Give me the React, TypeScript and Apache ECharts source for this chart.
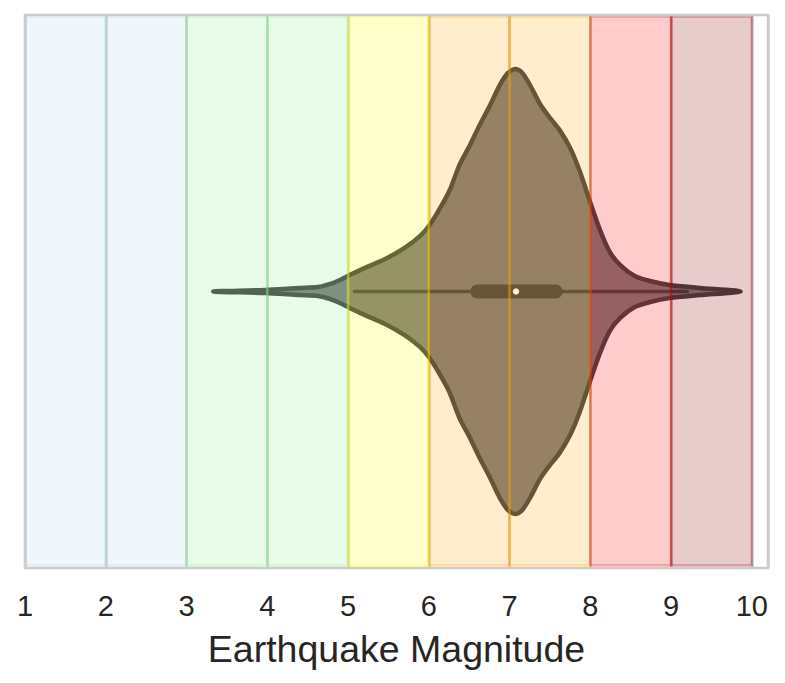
import React, { useEffect, useRef } from 'react';
import * as echarts from 'echarts';

// Violin profile (earthquake magnitude vs. relative density, peak = 1)
const magnitudes = [
  3.33, 3.97, 4.4, 4.63, 4.78, 4.9, 5.02, 5.21, 5.46, 5.7, 5.89, 6.01, 6.14, 6.26, 6.38,
  6.51, 6.63, 6.76, 6.88, 6.98, 7.07, 7.15, 7.25, 7.38, 7.5, 7.62, 7.75, 7.87, 7.99,
  8.12, 8.24, 8.37, 8.55, 8.74, 8.98, 9.36, 9.86,
];
const density = [
  0, 0.007, 0.016, 0.02, 0.034, 0.052, 0.074, 0.106, 0.146, 0.196, 0.249, 0.299, 0.375,
  0.456, 0.569, 0.658, 0.748, 0.838, 0.928, 0.982, 1.0, 0.985, 0.93, 0.84, 0.78, 0.725,
  0.645, 0.54, 0.41, 0.276, 0.178, 0.119, 0.07, 0.047, 0.029, 0.016, 0,
];
// [lower whisker, Q1, median, Q3, upper whisker]
const boxStats = [5.08, 6.6, 7.08, 7.57, 9.2];

// Background magnitude bands
const bandStarts = [1, 2, 3, 4, 5, 6, 7, 8, 9];
const bandEnds = [2, 3, 4, 5, 6, 7, 8, 9, 10];
const bandColors = [
  [173, 216, 230],
  [173, 216, 230],
  [144, 238, 144],
  [144, 238, 144],
  [255, 255, 0],
  [255, 165, 0],
  [255, 165, 0],
  [255, 0, 0],
  [139, 0, 0],
];

const xTicks = [1, 2, 3, 4, 5, 6, 7, 8, 9, 10];
const axisTitle = 'Earthquake Magnitude';

const FONT = '"Liberation Sans", Arial, Helvetica, sans-serif';
const TEXT = '#262626';
const VIOLIN_SCALE = 0.805;

export default function App() {
  const ref = useRef<HTMLDivElement>(null);

  useEffect(() => {
    if (!ref.current) return;
    const chart = echarts.init(ref.current, undefined, { renderer: 'svg' });

    const rgba = (c: number[], a: number) => `rgba(${c[0]},${c[1]},${c[2]},${a})`;

    const option: any = {
      animation: false,
      backgroundColor: '#ffffff',
      grid: { left: 25, right: 17, top: 15, bottom: 115, show: false },
      xAxis: {
        type: 'value',
        min: 1,
        max: 10.2,
        interval: 1,
        axisLine: { show: false },
        axisTick: { show: false },
        axisLabel: {
          fontSize: 29,
          color: TEXT,
          margin: 23,
          fontFamily: FONT,
          formatter: (v: number) => (xTicks.includes(v) ? String(v) : ''),
        },
        splitLine: { show: true, lineStyle: { color: '#cccccc', width: 2.5 } },
        name: axisTitle,
        nameLocation: 'middle',
        nameGap: 62,
        nameTextStyle: { fontSize: 37.5, color: TEXT, fontFamily: FONT },
      },
      yAxis: { type: 'value', min: -1, max: 1, show: false },
      series: [
        {
          type: 'custom',
          name: 'violin',
          z: 2,
          data: [[boxStats[2], 0]],
          renderItem: (_params: any, api: any) => {
            const n = magnitudes.length;
            const upper = magnitudes.map((m, i) => api.coord([m, density[i] * VIOLIN_SCALE]));
            const lower: number[][] = [];
            for (let i = n - 2; i >= 1; i--) {
              lower.push(api.coord([magnitudes[i], -density[i] * VIOLIN_SCALE]));
            }
            const pts = upper.concat(lower);
            const wl = api.coord([boxStats[0], 0]);
            const q1 = api.coord([boxStats[1], 0]);
            const med = api.coord([boxStats[2], 0]);
            const q3 = api.coord([boxStats[3], 0]);
            const wh = api.coord([boxStats[4], 0]);
            const dark = 'rgb(66,64,68)';
            return {
              type: 'group',
              children: [
                {
                  type: 'polygon',
                  shape: { points: pts, smooth: 0.25 },
                  style: { fill: 'rgb(124,120,126)', stroke: dark, lineWidth: 4.5, lineJoin: 'round' },
                },
                {
                  type: 'line',
                  shape: { x1: wl[0], y1: wl[1], x2: wh[0], y2: wh[1] },
                  style: { stroke: dark, lineWidth: 3.5, lineCap: 'round' },
                },
                {
                  type: 'line',
                  shape: { x1: q1[0], y1: q1[1], x2: q3[0], y2: q3[1] },
                  style: { stroke: dark, lineWidth: 14, lineCap: 'round' },
                },
                {
                  type: 'circle',
                  shape: { cx: med[0], cy: med[1], r: 3.2 },
                  style: { fill: '#ffffff' },
                },
              ],
            };
          },
        },
        {
          type: 'custom',
          name: 'bands',
          z: 3,
          data: bandStarts.map((s, i) => [s, bandEnds[i]]),
          renderItem: (params: any, api: any) => {
            const p0 = api.coord([api.value(0), 1]);
            const p1 = api.coord([api.value(1), -1]);
            const c = bandColors[params.dataIndex];
            return {
              type: 'rect',
              shape: { x: p0[0], y: p0[1] + 1.5, width: p1[0] - p0[0], height: p1[1] - p0[1] - 4 },
              style: { fill: rgba(c, 0.2), stroke: rgba(c, 0.3), lineWidth: 2.5 },
            };
          },
        },
      ],
      graphic: [
        {
          type: 'rect',
          z: 100,
          shape: { x: 25, y: 15, width: 743, height: 553 },
          style: { fill: 'none', stroke: '#cccccc', lineWidth: 2.5 },
        },
      ],
    };

    chart.setOption(option);
    return () => chart.dispose();
  }, []);

  return (
    <div
      ref={ref}
      style={{ position: 'absolute', left: 0, top: 0, width: 785, height: 683 }}
    />
  );
}
